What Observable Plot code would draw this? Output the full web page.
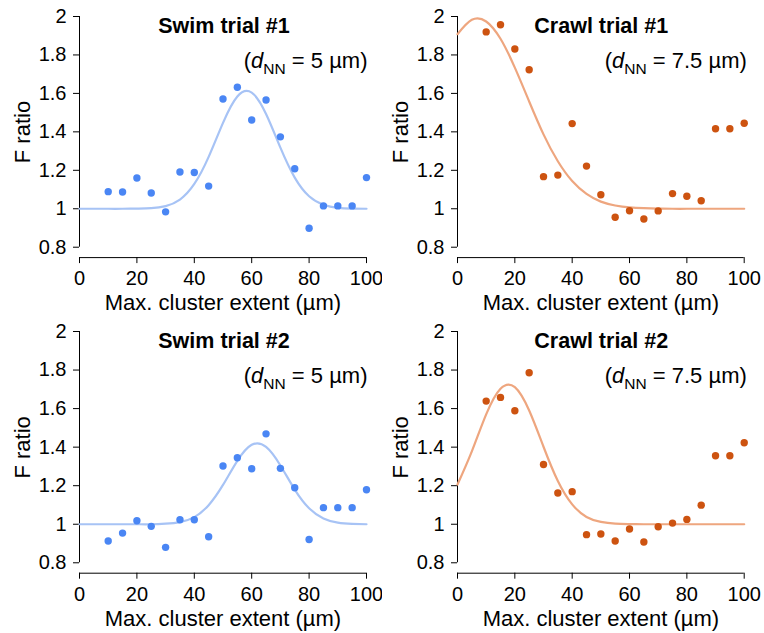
<!DOCTYPE html>
<html><head><meta charset="utf-8">
<script src="https://cdn.jsdelivr.net/npm/d3@7"></script>
<script src="https://cdn.jsdelivr.net/npm/@observablehq/plot@0.6"></script>
<style>
body{margin:0;background:#fff;}
#grid{display:grid;grid-template-columns:382px 382px;width:764px;}
#grid svg{display:block;}
</style></head><body><div id="grid"></div>
<script>
// ---- data ----
const xValues = [10,15,20,25,30,35,40,45,50,55,60,65,70,75,80,85,90,95,100];
const swim1  = [1.089,1.087,1.160,1.082,0.984,1.191,1.189,1.118,1.571,1.632,1.462,1.566,1.374,1.208,0.899,1.015,1.015,1.015,1.162];
const crawl1 = [1.920,1.957,1.831,1.723,1.167,1.175,1.443,1.222,1.073,0.956,0.990,0.947,0.989,1.079,1.065,1.042,1.416,1.416,1.445];
const swim2  = [0.913,0.954,1.018,0.989,0.880,1.023,1.023,0.935,1.302,1.345,1.288,1.469,1.290,1.189,0.921,1.086,1.086,1.086,1.179];
const crawl2 = [1.639,1.658,1.589,1.786,1.310,1.162,1.169,0.946,0.949,0.913,0.975,0.908,0.987,1.006,1.025,1.099,1.355,1.355,1.423];

// fitted curves, read at 5 µm steps
const fitX = [0,5,10,15,20,25,30,35,40,45,50,55,60,65,70,75,80,85,90,95,100];
const swim1Fit  = [1.000,1.000,1.000,1.000,1.001,1.003,1.014,1.048,1.129,1.270,1.447,1.584,1.604,1.493,1.318,1.162,1.065,1.021,1.005,1.001,1.000];
const crawl1Fit = [1.908,1.983,1.974,1.884,1.734,1.558,1.387,1.247,1.144,1.077,1.037,1.017,1.007,1.003,1.001,1.000,1.000,1.000,1.000,1.000,1.000];
const swim2Fit  = [1.000,1.000,1.000,1.000,1.000,1.000,1.003,1.011,1.037,1.099,1.204,1.329,1.412,1.401,1.305,1.180,1.083,1.030,1.008,1.002,1.000];
const crawl2Fit = [1.206,1.378,1.570,1.703,1.711,1.590,1.402,1.224,1.103,1.038,1.012,1.003,1.001,1.000,1.000,1.000,1.000,1.000,1.000,1.000,1.000];

const titles = ["Swim trial #1","Crawl trial #1","Swim trial #2","Crawl trial #2"];
const dnnValues = ["5","7.5","5","7.5"];
const xTicks = [0,20,40,60,80,100];
const yTicks = [0.8,1,1.2,1.4,1.6,1.8,2];
const yTickLabels = ["0.8","1","1.2","1.4","1.6","1.8","2"];
const xTitle = "Max. cluster extent (\u00b5m)";
const yTitle = "F ratio";

const blue = "#4a86f4", blueLine = "#a7c3f5";
const orange = "#cd5310", orangeLine = "#eea67f";
const FONT = "'Liberation Sans', Arial, Helvetica, sans-serif";
const yLow = 0.746;

function panel(i, values, fit, color, lineColor, left, top, height) {
  const ml = left ? 79 : 75, mr = left ? 16 : 20.3;
  const mt = top ? 16 : 15, mb = top ? 58.9 : 60.3;
  const annot = "(dNN = " + dnnValues[i] + " \u00b5m)";
  const pts = xValues.map((x, k) => ({x, y: values[k]}));
  const curve = fitX.map((x, k) => ({x, y: fit[k]}));
  const svg = Plot.plot({
    width: 382, height,
    marginLeft: ml, marginRight: mr, marginTop: mt, marginBottom: mb,
    style: {fontFamily: FONT, background: "white", color: "black", overflow: "visible"},
    x: {domain: [0, 100]},
    y: {domain: [yLow, 2]},
    marks: [
      Plot.ruleX([0], {y1: 0.8, y2: 2, stroke: "black"}),
      Plot.ruleY([yLow], {x1: 0, x2: 100, stroke: "black"}),
      Plot.axisY({ticks: yTicks, tickSize: 6, tickPadding: 7, fontSize: 20, label: null,
                  tickFormat: d => yTickLabels[yTicks.indexOf(d)]}),
      Plot.axisX({ticks: xTicks, tickSize: 6, tickPadding: 7.5, fontSize: 20, label: null,
                  tickFormat: d => String(d)}),
      Plot.line(curve, {x: "x", y: "y", stroke: lineColor, strokeWidth: 2.2, curve: "natural"}),
      Plot.dot(pts, {x: "x", y: "y", r: 3.7, fill: color, stroke: null}),
      Plot.text([titles[i]], {text: d => d, frameAnchor: "top", dx: left ? 1 : 0.4, dy: 10,
                  fontSize: 21.5, fontWeight: "bold", textAnchor: "middle", lineAnchor: "middle"}),
      Plot.text([annot], {text: d => d, frameAnchor: "top-right", dx: left ? 1 : 2.6, dy: 44.6,
                  fontSize: 22, textAnchor: "end", lineAnchor: "middle"}),
      Plot.text([xTitle], {text: d => d, frameAnchor: "bottom", dx: 0, dy: 45.8,
                  fontSize: 22, textAnchor: "middle", lineAnchor: "middle"}),
      Plot.text([yTitle], {text: d => d, frameAnchor: "left", dx: -56.5, dy: -5, rotate: -90,
                  fontSize: 22, textAnchor: "middle", lineAnchor: "middle"})
    ]
  });
  // subscript for d_NN
  svg.querySelectorAll("text").forEach(t => {
    if (t.textContent === annot) {
      t.textContent = "";
      const ns = "http://www.w3.org/2000/svg";
      const a = document.createElementNS(ns, "tspan"); a.textContent = "(";
      const d = document.createElementNS(ns, "tspan"); d.textContent = "d"; d.setAttribute("font-style", "italic");
      const s = document.createElementNS(ns, "tspan"); s.textContent = "NN"; s.setAttribute("font-size", "15.5"); s.setAttribute("dy", "6");
      const r = document.createElementNS(ns, "tspan"); r.textContent = " = " + dnnValues[i] + " \u00b5m)"; r.setAttribute("dy", "-6");
      t.append(a, d, s, r);
    }
  });
  return svg;
}

const grid = document.getElementById("grid");
grid.append(
  panel(0, swim1, swim1Fit, blue, blueLine, true, true, 316),
  panel(1, crawl1, crawl1Fit, orange, orangeLine, false, true, 316),
  panel(2, swim2, swim2Fit, blue, blueLine, true, false, 317),
  panel(3, crawl2, crawl2Fit, orange, orangeLine, false, false, 317)
);
</script></body></html>
